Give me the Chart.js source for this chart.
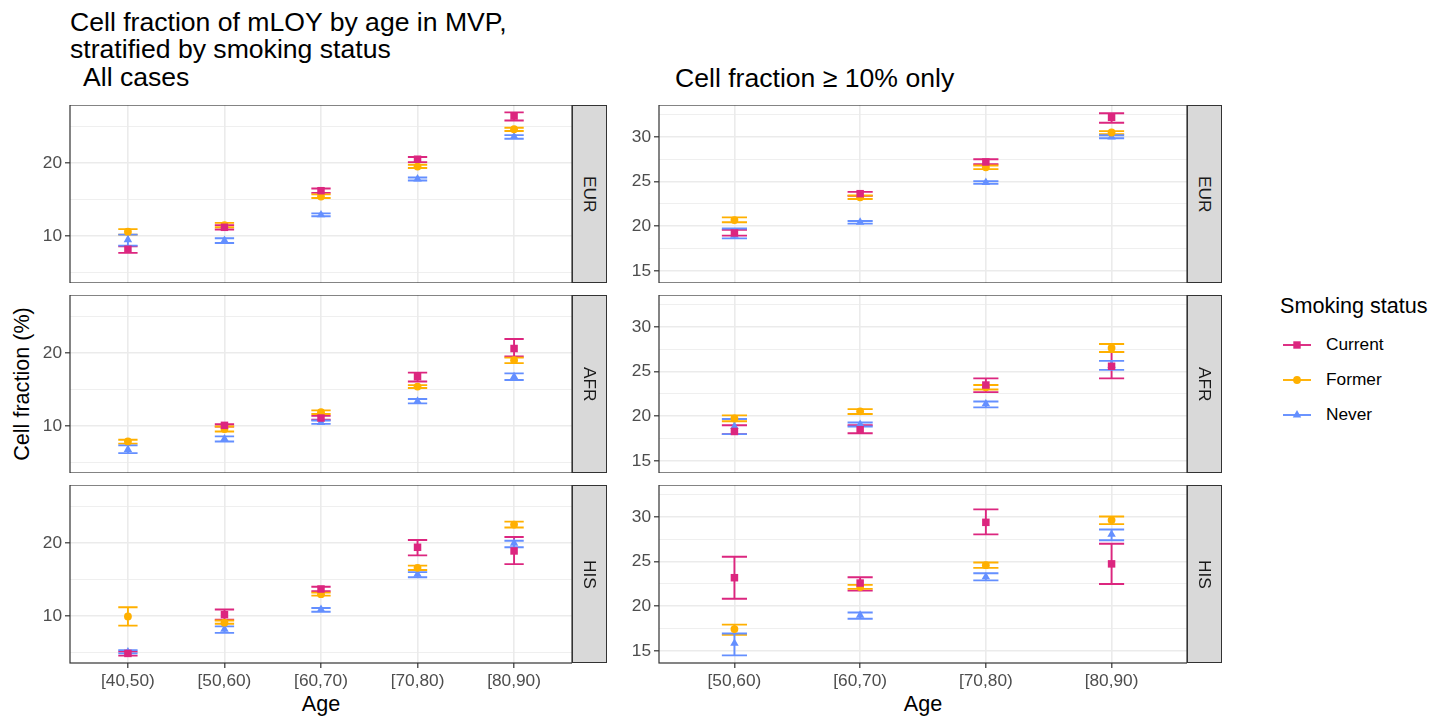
<!DOCTYPE html>
<html>
<head>
<meta charset="utf-8">
<script src="https://cdn.jsdelivr.net/npm/chart.js@4"></script>
<style>
  body { margin: 0; background: #fff; font-family: "Liberation Sans", Arial, sans-serif; }
  #page { position: relative; width: 1451px; height: 717px; overflow: hidden; }
  .abs { position: absolute; white-space: nowrap; color: #000; }
  .panel { position: absolute; }
  .strip { position: absolute; box-sizing: border-box; width: 35px; height: 178px; background: #D9D9D9;
           border: 1.2px solid #333; display: flex; align-items: center; justify-content: center; }
  .strip span { writing-mode: vertical-rl; font-size: 17.3px; color: #1A1A1A; }
  .title { font-size: 26.6px; line-height: 27.6px; }
  .axtitle { font-size: 21.6px; line-height: 1; }
  .lgtext { font-size: 17.3px; line-height: 17.3px; color: #000; }
</style>
</head>
<body>
<div id="page">
  <div class="abs title" style="left:70px; top:8.6px;">Cell fraction of mLOY by age in MVP,<br>stratified by smoking status</div>
  <div class="abs title" style="left:83px; top:64.2px;">All cases</div>
  <div class="abs title" style="left:675px; top:65.2px;">Cell fraction ≥ 10% only</div>

  <div class="abs axtitle" style="left:22px; top:383.5px; transform: translate(-50%, -50%) rotate(-90deg);">Cell fraction (%)</div>
  <div class="abs axtitle" style="left:321px; top:692.5px; transform: translateX(-50%);">Age</div>
  <div class="abs axtitle" style="left:923px; top:692.5px; transform: translateX(-50%);">Age</div>

  <div class="panel" style="left:30px; top:105px; width:542px; height:178px;"><canvas id="p00"></canvas></div>
  <div class="panel" style="left:30px; top:295px; width:542px; height:178px;"><canvas id="p10"></canvas></div>
  <div class="panel" style="left:30px; top:485px; width:542px; height:208px;"><canvas id="p20"></canvas></div>
  <div class="panel" style="left:619px; top:105px; width:568px; height:178px;"><canvas id="p01"></canvas></div>
  <div class="panel" style="left:619px; top:295px; width:568px; height:178px;"><canvas id="p11"></canvas></div>
  <div class="panel" style="left:619px; top:485px; width:568px; height:208px;"><canvas id="p21"></canvas></div>

  <div class="strip" style="left:571.5px; top:105px;"><span>EUR</span></div>
  <div class="strip" style="left:571.5px; top:295px;"><span>AFR</span></div>
  <div class="strip" style="left:571.5px; top:485px;"><span>HIS</span></div>
  <div class="strip" style="left:1186.5px; top:105px;"><span>EUR</span></div>
  <div class="strip" style="left:1186.5px; top:295px;"><span>AFR</span></div>
  <div class="strip" style="left:1186.5px; top:485px;"><span>HIS</span></div>

  <div class="abs axtitle" style="left:1280px; top:295px;">Smoking status</div>
  <div id="legend"></div>
</div>

<script>
// age groups (x axis)
const agesAll = ['[40,50)', '[50,60)', '[60,70)', '[70,80)', '[80,90)'];
const agesHigh = ['[50,60)', '[60,70)', '[70,80)', '[80,90)'];
const groups = ['Current', 'Former', 'Never'];
const ancestries = ['EUR', 'AFR', 'HIS'];

// each entry: [lower CI, estimate, upper CI], one per age group, null = no data

// --- All cases ---
const eurAllCurrent = [[7.7, 8.2, 8.6], [10.9, 11.2, 11.5], [15.9, 16.2, 16.5], [20.1, 20.5, 20.8], [25.8, 26.4, 26.9]];
const eurAllFormer  = [[10.2, 10.6, 10.95], [11.2, 11.5, 11.8], [15.2, 15.4, 15.7], [19.3, 19.5, 19.75], [24.35, 24.6, 24.8]];
const eurAllNever   = [[8.7, 9.5, 10.2], [9.05, 9.4, 9.7], [12.7, 12.9, 13.1], [17.6, 17.8, 18.0], [23.3, 23.6, 23.8]];

const afrAllCurrent = [null, [9.95, 10.1, 10.27], [10.86, 11.1, 11.4], [16.1, 16.75, 17.3], [19.5, 20.6, 21.9]];
const afrAllFormer  = [[7.6, 7.9, 8.14], [9.27, 9.6, 9.95], [11.65, 11.9, 12.15], [15.2, 15.4, 15.6], [18.6, 19.0, 19.36]];
const afrAllNever   = [[6.3, 6.8, 7.36], [7.9, 8.25, 8.6], [10.3, 10.5, 10.77], [13.1, 13.4, 13.7], [16.3, 16.75, 17.2]];

const hisAllCurrent = [[4.6, 4.9, 5.15], [9.5, 10.2, 10.9], [13.4, 13.7, 14.0], [18.3, 19.4, 20.4], [17.1, 18.9, 20.8]];
const hisAllFormer  = [[8.7, 9.95, 11.2], [8.95, 9.1, 9.4], [12.8, 13.0, 13.2], [16.3, 16.6, 16.9], [22.1, 22.5, 22.9]];
const hisAllNever   = [[4.9, 5.1, 5.35], [7.7, 8.2, 8.6], [10.6, 10.9, 11.1], [15.3, 15.7, 16.0], [19.4, 19.95, 20.3]];

// --- Cell fraction >= 10% only ---
const eurHighCurrent = [[18.95, 19.25, 19.6], [23.4, 23.65, 23.85], [26.95, 27.2, 27.5], [31.6, 32.2, 32.65]];
const eurHighFormer  = [[20.45, 20.7, 21.0], [23.05, 23.25, 23.45], [26.4, 26.6, 26.8], [30.3, 30.5, 30.65]];
const eurHighNever   = [[18.65, 19.0, 19.75], [20.3, 20.45, 20.6], [24.75, 24.9, 25.05], [29.85, 30.0, 30.2]];

const afrHighCurrent = [[18.0, 18.3, 19.0], [18.1, 18.5, 19.0], [22.7, 23.5, 24.25], [24.25, 25.6, 27.2]];
const afrHighFormer  = [[19.45, 19.75, 20.1], [20.25, 20.55, 20.8], [23.0, 23.25, 23.5], [27.2, 27.65, 28.1]];
const afrHighNever   = [[18.0, 18.85, 19.7], [18.85, 19.1, 19.3], [21.0, 21.4, 21.65], [25.2, 25.7, 26.2]];

const hisHighCurrent = [[20.85, 23.2, 25.55], [21.75, 22.6, 23.25], [28.05, 29.4, 30.85], [22.5, 24.75, 27.0]];
const hisHighFormer  = [[16.8, 17.45, 17.95], [21.95, 22.15, 22.4], [24.3, 24.6, 24.9], [29.2, 29.65, 30.05]];
const hisHighNever   = [[14.5, 15.85, 16.95], [18.6, 19.0, 19.3], [22.9, 23.3, 23.7], [27.4, 28.05, 28.6]];

// y axis ranges per column
const yAllRange = [3.59, 27.91];
const yHighRange = [13.65, 33.58];


const colors = { Current: '#DC267F', Former: '#FFB000', Never: '#648FFF' };
const shapes = { Current: 'rect', Former: 'circle', Never: 'triangle' };
const radii  = { Current: 5.3, Former: 3.9, Never: 4.9 };
const FONT = '"Liberation Sans", Arial, sans-serif';
Chart.defaults.font.family = FONT;

// error bars under the points, drawn through the chart scales
const errorBars = {
  id: 'errorBars',
  beforeDatasetsDraw(chart) {
    const { ctx, chartArea: a, scales: { x, y } } = chart;
    ctx.save();
    ctx.beginPath();
    ctx.rect(a.left, a.top, a.width, a.height);
    ctx.clip();
    ctx.lineWidth = 1.9;
    chart.data.datasets.forEach(ds => {
      ctx.strokeStyle = ds.backgroundColor;
      ds.data.forEach(d => {
        const xc = x.getPixelForValue(d.x);
        const xl = x.getPixelForValue(d.x - 0.1);
        const xr = x.getPixelForValue(d.x + 0.1);
        const yl = y.getPixelForValue(d.lo);
        const yh = y.getPixelForValue(d.hi);
        ctx.beginPath();
        ctx.moveTo(xl, yh); ctx.lineTo(xr, yh);
        ctx.moveTo(xc, yh); ctx.lineTo(xc, yl);
        ctx.moveTo(xl, yl); ctx.lineTo(xr, yl);
        ctx.stroke();
      });
    });
    ctx.restore();
  }
};

const panelBorder = {
  id: 'panelBorder',
  afterDraw(chart) {
    const { ctx, chartArea: a } = chart;
    ctx.save();
    ctx.strokeStyle = '#333333';
    ctx.lineWidth = 1.2;
    ctx.strokeRect(a.left, a.top, a.width, a.height);
    ctx.restore();
  }
};

function toPoints(rows) {
  const pts = [];
  rows.forEach((r, i) => {
    if (r) pts.push({ x: i, y: r[1], lo: r[0], hi: r[2] });
  });
  return pts;
}

function makePanel(id, ages, series, yRange, yStep, majorStep, bottom) {
  const isMajor = v => Math.abs(v / majorStep - Math.round(v / majorStep)) < 1e-6;
  new Chart(document.getElementById(id), {
    type: 'scatter',
    data: {
      datasets: groups.map((g, k) => ({
        label: g,
        data: toPoints(series[k]),
        pointStyle: shapes[g],
        pointRadius: radii[g],
        backgroundColor: colors[g],
        borderColor: colors[g],
        borderWidth: 0,
        showLine: false
      }))
    },
    options: {
      responsive: true,
      maintainAspectRatio: false,
      animation: false,
      events: [],
      layout: { padding: 0, autoPadding: false },
      plugins: { legend: { display: false }, tooltip: { enabled: false } },
      scales: {
        x: {
          type: 'linear',
          min: -0.6,
          max: ages.length - 0.4,
          afterFit: s => { s.height = bottom ? 30 : 0; s.paddingLeft = 0; s.paddingRight = 0; },
          border: { display: false },
          grid: { color: '#EBEBEB', lineWidth: 1.6, drawTicks: bottom, tickLength: 5, tickColor: '#333333', tickWidth: 1.2 },
          ticks: {
            display: bottom, stepSize: 1, includeBounds: false, autoSkip: false, maxRotation: 0,
            padding: 3, color: '#4D4D4D', font: { size: 17.3 },
            callback: v => ages[v] ?? ''
          }
        },
        y: {
          min: yRange[0],
          max: yRange[1],
          afterFit: s => { s.width = 40; s.paddingTop = 0; s.paddingBottom = 0; },
          border: { display: false },
          grid: {
            color: '#EBEBEB',
            lineWidth: c => isMajor(c.tick.value) ? 1.6 : 0.8,
            tickLength: 5,
            tickColor: c => isMajor(c.tick.value) ? '#333333' : 'rgba(0,0,0,0)',
            tickWidth: 1.2
          },
          ticks: {
            stepSize: yStep, includeBounds: false, autoSkip: false,
            padding: 3, color: '#4D4D4D', font: { size: 17.3 },
            callback: v => isMajor(v) ? String(v) : ''
          }
        }
      }
    },
    plugins: [errorBars, panelBorder]
  });
}

makePanel('p00', agesAll, [eurAllCurrent, eurAllFormer, eurAllNever], yAllRange, 5, 10, false);
makePanel('p10', agesAll, [afrAllCurrent, afrAllFormer, afrAllNever], yAllRange, 5, 10, false);
makePanel('p20', agesAll, [hisAllCurrent, hisAllFormer, hisAllNever], yAllRange, 5, 10, true);
makePanel('p01', agesHigh, [eurHighCurrent, eurHighFormer, eurHighNever], yHighRange, 2.5, 5, false);
makePanel('p11', agesHigh, [afrHighCurrent, afrHighFormer, afrHighNever], yHighRange, 2.5, 5, false);
makePanel('p21', agesHigh, [hisHighCurrent, hisHighFormer, hisHighNever], yHighRange, 2.5, 5, true);

// legend: key glyphs + labels
const legendY = [345, 379.5, 414.5];
const legend = document.getElementById('legend');
groups.forEach((g, k) => {
  const c = colors[g];
  let marker;
  if (shapes[g] === 'rect') marker = `<rect x="10.3" y="6.3" width="7.4" height="7.4" fill="${c}"/>`;
  else if (shapes[g] === 'circle') marker = `<circle cx="14" cy="10" r="3.9" fill="${c}"/>`;
  else marker = `<polygon points="14,5.1 18.2,12.5 9.8,12.5" fill="${c}"/>`;
  const key = document.createElement('div');
  key.className = 'abs';
  key.style.left = '1283px';
  key.style.top = (legendY[k] - 10) + 'px';
  key.innerHTML = `<svg width="28" height="20"><line x1="0" y1="10" x2="28" y2="10" stroke="${c}" stroke-width="1.9"/>${marker}</svg>`;
  legend.appendChild(key);
  const lab = document.createElement('div');
  lab.className = 'abs lgtext';
  lab.style.left = '1326px';
  lab.style.top = (legendY[k] - 8.7) + 'px';
  lab.textContent = g;
  legend.appendChild(lab);
});
</script>
</body>
</html>
